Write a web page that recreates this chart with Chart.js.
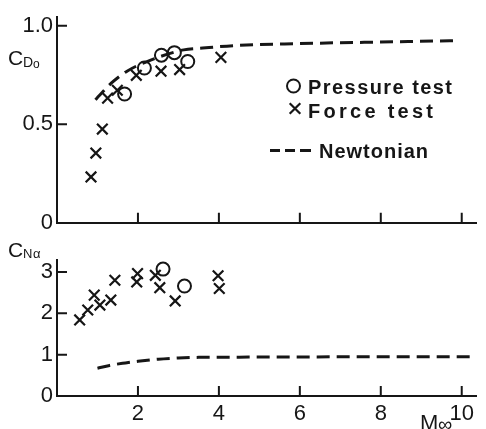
<!DOCTYPE html>
<html>
<head>
<meta charset="utf-8">
<script src="https://cdn.jsdelivr.net/npm/chart.js@4"></script>
<style>
  html, body { margin: 0; padding: 0; background: #fff; }
  #wrap { position: relative; width: 486px; height: 429px; overflow: hidden; background: #fff; }
  canvas { position: absolute; left: 0; }
  #dragChart { top: 0; }
  #normalChart { top: 240px; }
</style>
</head>
<body>
<div id="wrap">
  <canvas id="dragChart" width="486" height="240"></canvas>
  <canvas id="normalChart" width="486" height="189"></canvas>
</div>
<script>
// Zero-lift drag coefficient vs free-stream Mach number
const machPressureCd = [1.67, 2.16, 2.58, 2.9, 3.23];
const cdPressure = [0.654, 0.786, 0.851, 0.864, 0.819];
const machForceCd = [0.84, 0.96, 1.12, 1.25, 1.49, 1.96, 2.57, 3.03, 4.05];
const cdForce = [0.233, 0.354, 0.476, 0.633, 0.673, 0.749, 0.77, 0.778, 0.84];
const machNewtonCd = [0.95, 1.04, 1.34, 1.73, 2.3, 3.13, 3.6, 4.4, 6, 8, 9.93];
const cdNewton = [0.625, 0.645, 0.709, 0.77, 0.825, 0.878, 0.887, 0.9, 0.91, 0.918, 0.925];

// Normal-force slope vs free-stream Mach number
const machPressureCn = [2.62, 3.15];
const cnPressure = [3.07, 2.66];
const machForceCn = [0.56, 0.76, 0.92, 1.06, 1.33, 1.43, 1.99, 1.97, 2.43, 2.54, 2.92, 3.98, 4.01];
const cnForce = [1.84, 2.08, 2.44, 2.2, 2.32, 2.8, 2.96, 2.76, 2.92, 2.62, 2.3, 2.91, 2.6];
const machNewtonCn = [1.0, 1.3, 1.69, 2.0, 2.5, 3.0, 3.5, 4.5, 6, 8, 10.3];
const cnNewton = [0.67, 0.74, 0.8, 0.84, 0.89, 0.92, 0.935, 0.94, 0.945, 0.95, 0.95];

const cdTicks = [0, 0.5, 1.0];
const cnTicks = [0, 1, 2, 3];
const machTicks = [0, 2, 4, 6, 8, 10];

const INK = '#161616';
const FONT = "'Liberation Sans', Arial, sans-serif";
Chart.defaults.font.family = FONT;
Chart.defaults.color = INK;

const toPoints = (xs, ys) => xs.map((x, i) => ({ x: x, y: ys[i] }));

function datasets(mp, yp, mf, yf, mn, yn) {
  return [
    {
      label: 'Pressure test',
      data: toPoints(mp, yp),
      pointStyle: 'circle',
      pointRadius: 6.5,
      borderWidth: 2,
      borderColor: INK,
      backgroundColor: 'rgba(255,255,255,0)',
      showLine: false
    },
    {
      label: 'Force test',
      data: toPoints(mf, yf),
      pointStyle: 'crossRot',
      pointRadius: 7.5,
      borderWidth: 2.2,
      borderColor: INK,
      showLine: false
    },
    {
      label: 'Newtonian',
      data: toPoints(mn, yn),
      showLine: true,
      borderColor: INK,
      borderWidth: 3,
      borderDash: [13, 7],
      pointRadius: 0,
      cubicInterpolationMode: 'monotone',
      fill: false
    }
  ];
}

// ticks on these plots point into the plot area
const inwardTicks = {
  id: 'inwardTicks',
  afterDatasetsDraw(chart) {
    const { ctx, chartArea, scales } = chart;
    ctx.save();
    ctx.strokeStyle = INK;
    ctx.lineWidth = 2;
    ctx.beginPath();
    scales.x.ticks.forEach(t => {
      if (t.value === 0) return;
      const px = scales.x.getPixelForValue(t.value);
      ctx.moveTo(px, chartArea.bottom);
      ctx.lineTo(px, chartArea.bottom - 10);
    });
    scales.y.ticks.forEach(t => {
      if (t.value === 0) return;
      const py = scales.y.getPixelForValue(t.value);
      ctx.moveTo(chartArea.left, py);
      ctx.lineTo(chartArea.left + 10, py);
    });
    ctx.stroke();
    ctx.restore();
  }
};

function spacedText(ctx, text, x, baseline, width) {
  ctx.letterSpacing = '0px';
  const plain = ctx.measureText(text).width;
  const gap = text.length > 1 ? (width - plain) / (text.length - 1) : 0;
  ctx.letterSpacing = gap.toFixed(2) + 'px';
  ctx.fillText(text, x, baseline);
  ctx.letterSpacing = '0px';
}

function axisOptions(yTicks, yMax, yFormat, showMachLabels, xHeight) {
  return {
    x: {
      type: 'linear',
      min: 0,
      max: 10.36,
      afterBuildTicks: s => { s.ticks = machTicks.map(v => ({ value: v })); },
      afterFit: s => { s.height = xHeight; },
      grid: { display: false, drawTicks: false },
      border: { display: true, color: INK, width: 2 },
      ticks: {
        display: showMachLabels,
        padding: 5,
        font: { size: 22 },
        color: INK,
        callback: v => (v === 0 ? '' : String(v))
      }
    },
    y: {
      type: 'linear',
      min: 0,
      max: yMax,
      afterBuildTicks: s => { s.ticks = yTicks.map(v => ({ value: v })); },
      afterFit: s => { s.width = 57; },
      grid: { display: false, drawTicks: false },
      border: { display: true, color: INK, width: 2 },
      ticks: {
        padding: 4,
        font: { size: 22 },
        color: INK,
        callback: yFormat
      }
    }
  };
}

const dragLabels = {
  id: 'dragLabels',
  afterDraw(chart) {
    const ctx = chart.ctx;
    ctx.save();
    ctx.fillStyle = INK;
    ctx.textAlign = 'left';
    ctx.textBaseline = 'alphabetic';
    // C_Do axis title
    ctx.font = '21px ' + FONT;
    ctx.fillText('C', 8, 65);
    ctx.font = '14px ' + FONT;
    ctx.fillText('D', 23, 67);
    ctx.font = '12px ' + FONT;
    ctx.fillText('o', 33, 68);

    // legend symbols, open circle and cross like the plotted marks
    const H = Chart.helpers;
    ctx.fillStyle = 'rgba(255,255,255,0)';
    ctx.strokeStyle = INK;
    ctx.lineWidth = 2;
    H.drawPoint(ctx, { pointStyle: 'circle', radius: 6.5, borderWidth: 2 }, 293.5, 86);
    ctx.lineWidth = 2.2;
    H.drawPoint(ctx, { pointStyle: 'crossRot', radius: 7.5, borderWidth: 2.2 }, 295, 108.5);
    ctx.lineWidth = 3;
    ctx.beginPath();
    [[270, 280], [285, 295], [300, 311]].forEach(([a, b]) => {
      ctx.moveTo(a, 150.5);
      ctx.lineTo(b, 150.5);
    });
    ctx.stroke();

    ctx.fillStyle = INK;
    ctx.font = 'bold 20px ' + FONT;
    spacedText(ctx, 'Pressure test', 308, 94, 144);
    spacedText(ctx, 'Force test', 308, 118, 125);
    spacedText(ctx, 'Newtonian', 319, 158, 109);
    ctx.restore();
  }
};

const normalLabels = {
  id: 'normalLabels',
  afterDraw(chart) {
    const ctx = chart.ctx;
    ctx.save();
    ctx.fillStyle = INK;
    ctx.textAlign = 'left';
    ctx.textBaseline = 'alphabetic';
    // C_Nalpha axis title
    ctx.font = '21px ' + FONT;
    ctx.fillText('C', 8, 17);
    ctx.font = '13px ' + FONT;
    ctx.fillText('N', 23, 18);
    ctx.fillText('α', 33, 18);
    // Mach axis title
    ctx.font = '22px ' + FONT;
    ctx.fillText('M', 420, 190);
    ctx.font = '20px ' + FONT;
    ctx.fillText('∞', 438, 191);
    ctx.restore();
  }
};

new Chart(document.getElementById('dragChart'), {
  type: 'scatter',
  data: { datasets: datasets(machPressureCd, cdPressure, machForceCd, cdForce, machNewtonCd, cdNewton) },
  options: {
    responsive: false,
    animation: false,
    devicePixelRatio: 1,
    layout: { padding: { top: 12, right: 2, left: 0, bottom: 0 } },
    plugins: { legend: { display: false }, tooltip: { enabled: false } },
    scales: axisOptions(cdTicks, 1.044, v => (v === 0 ? '0' : v.toFixed(1)), false, 13)
  },
  plugins: [inwardTicks, dragLabels]
});

new Chart(document.getElementById('normalChart'), {
  type: 'scatter',
  data: { datasets: datasets(machPressureCn, cnPressure, machForceCn, cnForce, machNewtonCn, cnNewton) },
  options: {
    responsive: false,
    animation: false,
    devicePixelRatio: 1,
    layout: { padding: { top: 20, right: 2, left: 0, bottom: 0 } },
    plugins: { legend: { display: false }, tooltip: { enabled: false } },
    scales: axisOptions(cnTicks, 3.29, v => String(v), true, 33)
  },
  plugins: [inwardTicks, normalLabels]
});
</script>
</body>
</html>
